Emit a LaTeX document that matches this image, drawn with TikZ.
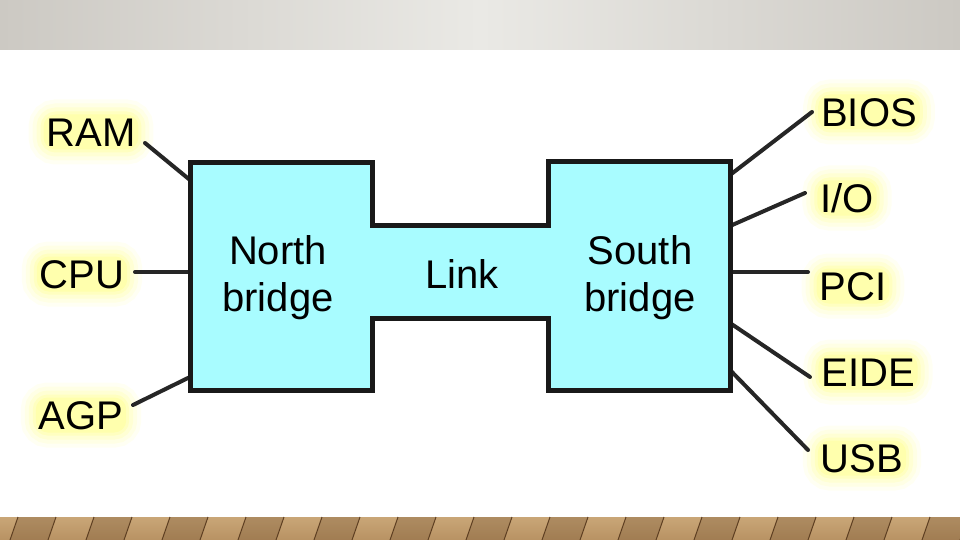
\documentclass[tikz,border=0pt]{standalone}
\usepackage{fontspec}
\setmainfont{Liberation Sans}
\usetikzlibrary{positioning}

\definecolor{hubcyan}{HTML}{A8FCFF}
\definecolor{barlight}{HTML}{EAE9E5}
\definecolor{bardark}{HTML}{CCC9C3}
\definecolor{woodtan}{HTML}{B89263}
\definecolor{woodlight}{HTML}{C9A677}
\definecolor{wooddark}{HTML}{5E3F22}
\definecolor{glowyellow}{HTML}{FFFF55}

\begin{document}
\begin{tikzpicture}[x=1pt,y=-1pt,
        tag/.style = {font=\fontsize{40}{47}\selectfont, text height=29pt, text depth=0pt, inner sep=3pt,
                      rounded corners=12pt, fill=glowyellow!48,
                      preaction={draw=glowyellow!7, line width=30pt},
                      preaction={draw=glowyellow!15, line width=22pt},
                      preaction={draw=glowyellow!25, line width=14pt},
                      preaction={draw=glowyellow!37, line width=6pt}},
        bridgetext/.style = {font=\fontsize{40}{47}\selectfont, align=center, inner sep=0pt},
        hub/.style = {draw=black!90, fill=hubcyan, line width=5pt, line join=miter},
        wire/.style = {draw=black!85, line width=4pt, line cap=round},]
        \useasboundingbox (0,0) rectangle (960,540);

        \fill[left color=bardark, right color=bardark, middle color=barlight] (0,0) rectangle (960,50);
        \fill[top color=woodlight, bottom color=woodtan] (0,517) rectangle (960,540);
        \foreach \x in {10,86,...,960}
            \fill[wooddark, opacity=0.25] (\x+8,517) -- (\x+46,517) -- (\x+38,540) -- (\x,540) -- cycle;
        \foreach \x in {10,48,...,960}
            \draw[wooddark, line width=1pt] (\x+8,517) -- (\x,540);

        \node[tag] (ram) at (91,132) {RAM};
        \node[tag] (cpu) at (82,274) {CPU};
        \node[tag] (agp) at (81,415) {AGP};

        \node[tag] (bios) at (869,112) {BIOS};
        \node[tag] (io) at (847,198) {I/O};
        \node[tag] (pci) at (853,286) {PCI};
        \node[tag] (eide) at (868,372) {EIDE};
        \node[tag] (usb) at (862,458) {USB};

        \coordinate (ram-w) at (145,143);
        \coordinate (cpu-w) at (135,272);
        \coordinate (agp-w) at (133,405);
        \coordinate (bios-w) at (812,112);
        \coordinate (io-w) at (805,193);
        \coordinate (pci-w) at (808,272);
        \coordinate (eide-w) at (810,377);
        \coordinate (usb-w) at (808,450);

        \coordinate (nb-ram) at (190,180);
        \coordinate (nb-cpu) at (190,272);
        \coordinate (nb-agp) at (190,377);
        \coordinate (sb-bios) at (730,175);
        \coordinate (sb-io) at (730,226);
        \coordinate (sb-pci) at (730,272);
        \coordinate (sb-eide) at (730,323);
        \coordinate (sb-usb) at (730,370);

        \draw[wire] (ram-w) -- (nb-ram);
        \draw[wire] (cpu-w) -- (nb-cpu);
        \draw[wire] (agp-w) -- (nb-agp);
        \draw[wire] (bios-w) -- (sb-bios);
        \draw[wire] (io-w) -- (sb-io);
        \draw[wire] (pci-w) -- (sb-pci);
        \draw[wire] (eide-w) -- (sb-eide);
        \draw[wire] (usb-w) -- (sb-usb);

        \draw[hub] (190,163) -| (372,225) -| (548,162) -| (730,390) -| (548,318) -| (372,390) -| (190,163) -- cycle;

        \node[bridgetext] (north) at (278,278) {North\\bridge};
        \node[bridgetext] (link) at (462,274) {Link};
        \node[bridgetext] (south) at (640,278) {South\\bridge};

\end{tikzpicture}
\end{document}
